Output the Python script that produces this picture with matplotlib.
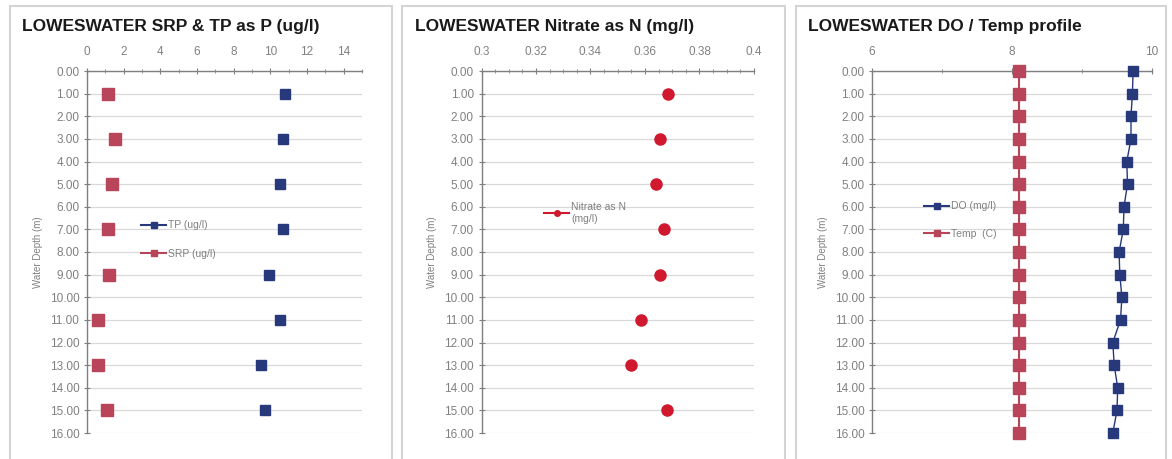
import matplotlib
matplotlib.use("Agg")
import matplotlib.pyplot as plt
from matplotlib.lines import Line2D
from matplotlib.patches import Rectangle
from matplotlib.ticker import MultipleLocator, FormatStrFormatter

plt.rcParams['font.family'] = ['Liberation Sans', 'DejaVu Sans']

# ---- data ----
depth_p = [1, 3, 5, 7, 9, 11, 13, 15]
tp_ugl = [10.8, 10.7, 10.5, 10.7, 9.9, 10.5, 9.5, 9.7]
srp_ugl = [1.15, 1.5, 1.35, 1.15, 1.2, 0.6, 0.6, 1.1]

depth_n = [1, 3, 5, 7, 9, 11, 13, 15]
nitrate_mgl = [0.3686, 0.3656, 0.3641, 0.3671, 0.3656, 0.3587, 0.3547, 0.3680]

depth_profile = list(range(0, 17))
do_mgl = [9.73, 9.72, 9.70, 9.70, 9.64, 9.65, 9.60, 9.59, 9.53, 9.54,
          9.57, 9.55, 9.44, 9.46, 9.51, 9.50, 9.44]
temp_c = [8.1] * 17

titles = ["LOWESWATER SRP & TP as P (ug/l)",
          "LOWESWATER Nitrate as N (mg/l)",
          "LOWESWATER DO / Temp profile"]

# ---- styling ----
W, H = 1172, 459
fig = plt.figure(figsize=(W / 100, H / 100), dpi=100)

NAVY = "#27397a"
ROSE = "#b9455a"
RED = "#d0182e"
GRID = "#d9d9d9"
AXC = "#7f7f7f"
TXT = "#808080"

def fx(px):
    return px / W

def fy(py):
    return 1 - py / H

panels = [  # (border left, border right, plot left, plot right, title x)
    (10, 392, 87, 362, 22),
    (402, 785, 481.5, 754, 415),
    (796, 1166, 872, 1152, 808),
]
plot_top, plot_bot = 71, 433

for bl, br, _, _, _ in panels:
    fig.patches.append(Rectangle((fx(bl), fy(480)), fx(br - bl), (480 - 6) / H,
                                 transform=fig.transFigure, fill=False,
                                 edgecolor="#d4d4d4", linewidth=1.5,
                                 clip_on=False))

axes = []
for i, (bl, br, pl, pr, tx) in enumerate(panels):
    ax = fig.add_axes([fx(pl), fy(plot_bot), fx(pr - pl), (plot_bot - plot_top) / H])
    axes.append(ax)
    ax.set_ylim(16, 0)
    ax.yaxis.set_major_locator(MultipleLocator(1))
    ax.yaxis.set_major_formatter(FormatStrFormatter("%.2f"))
    ax.xaxis.tick_top()
    ax.grid(axis="y", color=GRID, linewidth=0.9)
    ax.set_axisbelow(True)
    for s in ("right", "bottom"):
        ax.spines[s].set_visible(False)
    for s in ("left", "top"):
        ax.spines[s].set_color(AXC)
        ax.spines[s].set_linewidth(1.0)
    ax.tick_params(axis="both", which="major", direction="inout", length=5,
                   color=AXC, labelsize=8.5, labelcolor=TXT, pad=3)
    ax.tick_params(axis="x", which="major", pad=7)
    ax.tick_params(axis="x", which="minor", direction="inout", length=3,
                   color=AXC, top=True, bottom=False)
    ax.set_ylabel("Water Depth (m)", fontsize=7, color=TXT, labelpad=5)
    fig.text(fx(tx), fy(27), titles[i], fontsize=12.5, fontweight="bold",
             color="#1a1a1a", va="center", ha="left")

# Panel 1: SRP & TP
ax = axes[0]
ax.set_xlim(0, 15)
ax.xaxis.set_major_locator(MultipleLocator(2))
ax.xaxis.set_minor_locator(MultipleLocator(1))
ax.plot(tp_ugl, depth_p, linestyle="none", marker="s", markersize=7,
        color=NAVY, zorder=3, clip_on=False)
ax.plot(srp_ugl, depth_p, linestyle="none", marker="s", markersize=8.5,
        color=ROSE, zorder=3, clip_on=False)
h1 = [Line2D([], [], color=NAVY, marker="s", markersize=4, linewidth=1.5),
      Line2D([], [], color=ROSE, marker="s", markersize=4, linewidth=1.5)]
ax.legend(h1, ["TP (ug/l)", "SRP (ug/l)"], loc="upper left",
          bbox_to_anchor=((137 - 87) / (362 - 87), (433 - 216) / 362),
          frameon=False, fontsize=7.5, labelcolor=TXT, handlelength=2.4,
          handletextpad=0.2, labelspacing=1.8, borderaxespad=0)

# Panel 2: Nitrate
ax = axes[1]
ax.set_xlim(0.3, 0.4)
ax.xaxis.set_major_locator(MultipleLocator(0.02))
ax.xaxis.set_minor_locator(MultipleLocator(0.005))
ax.xaxis.set_major_formatter(plt.FuncFormatter(
    lambda v, p: f"{v:.1f}" if abs(v - 0.3) < 1e-9 or abs(v - 0.4) < 1e-9 else f"{v:g}"))
ax.plot(nitrate_mgl, depth_n, linestyle="none", marker="o", markersize=8,
        color=RED, zorder=3, clip_on=False)
h2 = [Line2D([], [], color=RED, marker="o", markersize=4, linewidth=1.5)]
ax.legend(h2, ["Nitrate as N\n(mg/l)"], loc="upper left",
          bbox_to_anchor=((540 - 481.5) / (754 - 481.5), (433 - 198) / 362),
          frameon=False, fontsize=7.5, labelcolor=TXT, handlelength=2.4,
          handletextpad=0.2, borderaxespad=0)

# Panel 3: DO / Temp
ax = axes[2]
ax.set_xlim(6, 10)
ax.xaxis.set_major_locator(MultipleLocator(2))
ax.xaxis.set_minor_locator(MultipleLocator(1))
ax.plot(do_mgl, depth_profile, marker="s", markersize=6.5, color=NAVY,
        linewidth=1.0, zorder=3, clip_on=False)
ax.plot(temp_c, depth_profile, marker="s", markersize=8.5, color=ROSE,
        linewidth=1.5, zorder=3, clip_on=False)
h3 = [Line2D([], [], color=NAVY, marker="s", markersize=4, linewidth=1.5),
      Line2D([], [], color=ROSE, marker="s", markersize=4, linewidth=1.5)]
ax.legend(h3, ["DO (mg/l)", "Temp  (C)"], loc="upper left",
          bbox_to_anchor=((920 - 872) / 280, (433 - 197) / 362),
          frameon=False, fontsize=7.5, labelcolor=TXT, handlelength=2.4,
          handletextpad=0.2, labelspacing=1.7, borderaxespad=0)

fig.savefig("out.png", dpi=100)
